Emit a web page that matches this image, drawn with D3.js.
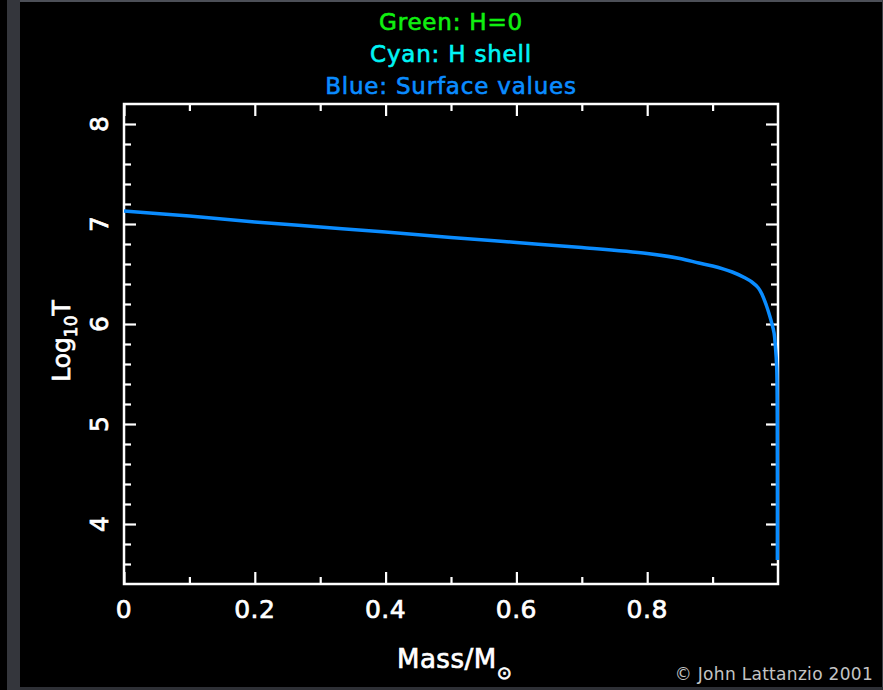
<!DOCTYPE html>
<html>
<head>
<meta charset="utf-8">
<script src="https://cdn.jsdelivr.net/npm/d3@7"></script>
<style>
  html, body { margin: 0; padding: 0; background: #000; }
  svg { display: block; }
</style>
</head>
<body>
<svg id="chart" width="883" height="690"></svg>
<script>
// ---- Data ----
const mass = [0, 0.1, 0.2, 0.3, 0.4, 0.5, 0.6, 0.7, 0.8, 0.85, 0.879, 0.9, 0.93, 0.95, 0.96, 0.97, 0.976, 0.982, 0.986, 0.99, 0.994, 0.996, 0.998, 0.999, 0.999];
const logT = [7.13, 7.08, 7.02, 6.97, 6.92, 6.865, 6.815, 6.765, 6.705, 6.655, 6.61, 6.58, 6.52, 6.46, 6.42, 6.36, 6.29, 6.19, 6.11, 6.02, 5.91, 5.78, 5.57, 4.60, 3.64];
const xMajorTicks = [0, 0.2, 0.4, 0.6, 0.8];
const xTickLabels = ["0", "0.2", "0.4", "0.6", "0.8"];
const xMinorTicks = [0.1, 0.3, 0.5, 0.7, 0.9];
const yMajorTicks = [4, 5, 6, 7, 8];
const yTickLabels = ["4", "5", "6", "7", "8"];
const yMinorTicks = [3.6, 3.8, 4.2, 4.4, 4.6, 4.8, 5.2, 5.4, 5.6, 5.8, 6.2, 6.4, 6.6, 6.8, 7.2, 7.4, 7.6, 7.8];
const titleLines = ["Green: H=0", "Cyan: H shell", "Blue: Surface values"];
const titleColors = ["#10f010", "#00f5f5", "#0a8cff"];
const xDomain = [0, 1.0];
const yDomain = [3.4, 8.2];

// ---- Layout ----
const svg = d3.select("#chart");
const W = 883, H = 690;
const plot = { left: 124, right: 778, top: 104, bottom: 584 };
const font = "'DejaVu Sans', 'Liberation Sans', sans-serif";

// background & screenshot frame
svg.append("rect").attr("width", W).attr("height", H).attr("fill", "#000");
svg.append("rect").attr("x", 7).attr("y", 0).attr("width", 13).attr("height", H).attr("fill", "#34363c");
svg.append("rect").attr("x", 20).attr("y", 0).attr("width", W - 20).attr("height", 2).attr("fill", "#4c4f57");
svg.append("rect").attr("x", 882).attr("y", 0).attr("width", 1).attr("height", H).attr("fill", "#3c3f46");
svg.append("rect").attr("x", 20).attr("y", 687).attr("width", W - 20).attr("height", 3).attr("fill", "#2e3036");

const x = d3.scaleLinear().domain(xDomain).range([plot.left, plot.right]);
const y = d3.scaleLinear().domain(yDomain).range([plot.bottom, plot.top]);

function styleAxis(g) {
  g.select(".domain").remove();
  g.selectAll(".tick line").attr("stroke", "#fff").attr("stroke-width", 2.2);
  g.selectAll(".tick text").remove();
}
function addAxis(axisFn, scale, pos, ticks, size) {
  const tr = (axisFn === d3.axisBottom || axisFn === d3.axisTop) ? `translate(0,${pos})` : `translate(${pos},0)`;
  svg.append("g").attr("transform", tr)
    .call(axisFn(scale).tickValues(ticks).tickSize(-size).tickFormat(""))
    .call(styleAxis);
}
addAxis(d3.axisBottom, x, plot.bottom, xMajorTicks, 12);
addAxis(d3.axisBottom, x, plot.bottom, xMinorTicks, 7);
addAxis(d3.axisTop, x, plot.top, xMajorTicks, 12);
addAxis(d3.axisTop, x, plot.top, xMinorTicks, 7);
addAxis(d3.axisLeft, y, plot.left, yMajorTicks, 12);
addAxis(d3.axisLeft, y, plot.left, yMinorTicks, 7);
addAxis(d3.axisRight, y, plot.right, yMajorTicks, 12);
addAxis(d3.axisRight, y, plot.right, yMinorTicks, 7);

// frame
svg.append("rect")
  .attr("x", plot.left).attr("y", plot.top)
  .attr("width", plot.right - plot.left).attr("height", plot.bottom - plot.top)
  .attr("fill", "none").attr("stroke", "#fff").attr("stroke-width", 2.5);

// x tick labels
svg.append("g").selectAll("text").data(xMajorTicks).join("text")
  .attr("x", d => x(d)).attr("y", 618)
  .attr("text-anchor", "middle")
  .attr("font-family", font).attr("font-size", 25).attr("letter-spacing", 0.5)
  .attr("fill", "#fff").attr("stroke", "#fff").attr("stroke-width", 0.7)
  .text((d, i) => xTickLabels[i]);

// y tick labels (rotated)
svg.append("g").selectAll("text").data(yMajorTicks).join("text")
  .attr("transform", d => `translate(108,${y(d)}) rotate(-90)`)
  .attr("text-anchor", "middle")
  .attr("font-family", font).attr("font-size", 25)
  .attr("fill", "#fff").attr("stroke", "#fff").attr("stroke-width", 0.7)
  .text((d, i) => yTickLabels[i]);

// y axis label
const yl = svg.append("text")
  .attr("transform", "translate(70,341) rotate(-90)")
  .attr("text-anchor", "middle")
  .attr("font-family", font).attr("font-size", 25)
  .attr("fill", "#fff").attr("stroke", "#fff").attr("stroke-width", 0.7);
yl.append("tspan").text("Log");
yl.append("tspan").attr("font-size", 17).attr("dy", 7).text("10");
yl.append("tspan").attr("dy", -7).text("T");

// x axis label
const xl = svg.append("text")
  .attr("x", 397).attr("y", 668)
  .attr("font-family", font).attr("font-size", 26).attr("letter-spacing", 0.5)
  .attr("fill", "#fff").attr("stroke", "#fff").attr("stroke-width", 0.7);
xl.append("tspan").text("Mass/M");
xl.append("tspan").attr("font-size", 18).attr("dy", 11).text("\u2299");

// titles
svg.append("g").selectAll("text").data(titleLines).join("text")
  .attr("x", (plot.left + plot.right) / 2)
  .attr("y", (d, i) => 30 + i * 32)
  .attr("text-anchor", "middle")
  .attr("font-family", font).attr("font-size", 23).attr("letter-spacing", 0.8)
  .attr("fill", (d, i) => titleColors[i])
  .attr("stroke", (d, i) => titleColors[i]).attr("stroke-width", 0.6)
  .text(d => d);

// curve
const pts = mass.map((m, i) => [m, logT[i]]);
const line = d3.line().x(d => x(d[0])).y(d => y(d[1])).curve(d3.curveCatmullRom.alpha(0.5));
svg.append("path")
  .datum(pts)
  .attr("d", line)
  .attr("fill", "none")
  .attr("stroke", titleColors[2])
  .attr("stroke-width", 3.5)
  .attr("stroke-linejoin", "round");

// copyright
svg.append("text")
  .attr("x", 873).attr("y", 680)
  .attr("text-anchor", "end")
  .attr("font-family", font).attr("font-size", 17).attr("letter-spacing", 0.3)
  .attr("fill", "#c4c4c4")
  .text("\u00A9 John Lattanzio 2001");
</script>
</body>
</html>
